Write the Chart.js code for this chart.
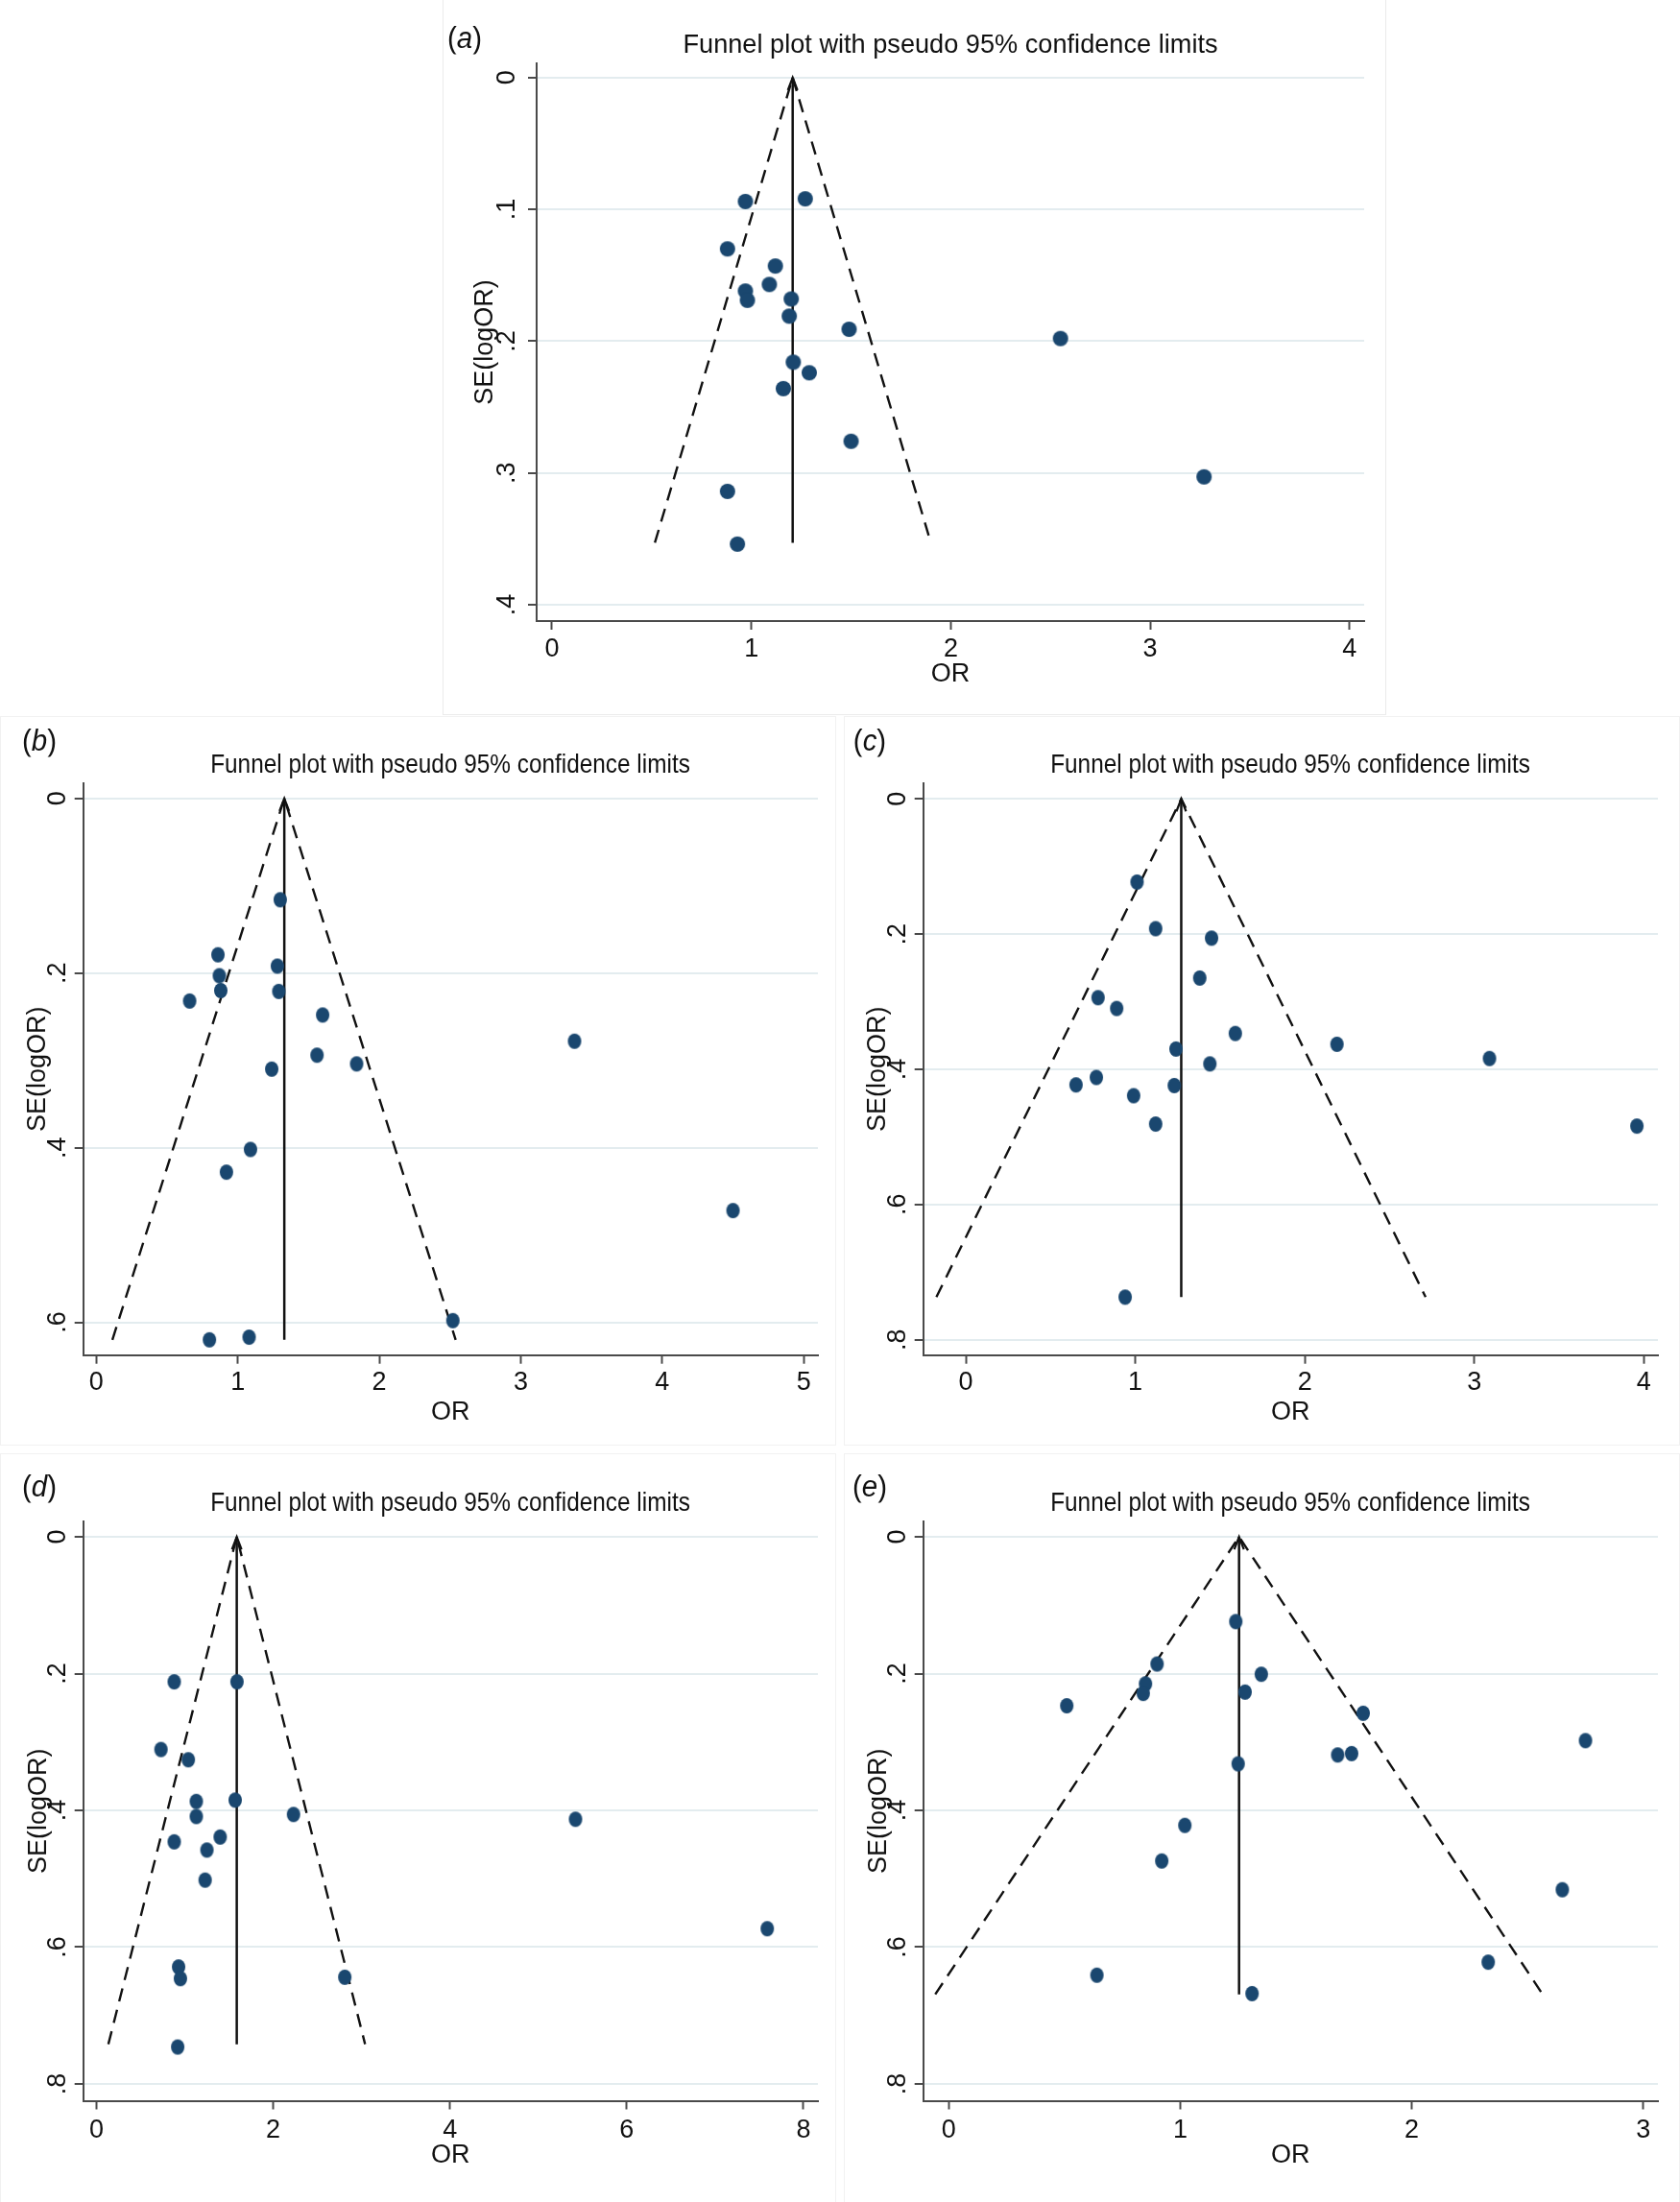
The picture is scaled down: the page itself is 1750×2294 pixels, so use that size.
<!DOCTYPE html>
<html>
<head>
<meta charset="utf-8">
<script src="https://cdn.jsdelivr.net/npm/chart.js@4.4.1/dist/chart.umd.min.js"></script>
<style>
  html, body { margin: 0; padding: 0; background: #fff; }
  body { width: 1750px; height: 2294px; position: relative; overflow: hidden; font-family: 'Liberation Sans', Arial, sans-serif; color: #111; }
  canvas { position: absolute; }
  .frame { position: absolute; border: 1px solid #f1f1f1; box-sizing: border-box; }
  .tag, .ttl { position: absolute; white-space: nowrap; line-height: 1; font-size: 28px; transform: translate(-50%, -50%) scaleX(0.87); }
  .tag { font-size: 31px; transform: translate(-50%, -50%) scaleX(0.95); }
  .tag i { font-style: italic; }
</style>
</head>
<body>
<div class="frame" style="left:461px;top:-1px;width:983px;height:746px;border-color:#ebebeb"></div>
<div class="frame" style="left:0;top:746px;width:871px;height:760px"></div>
<div class="frame" style="left:879px;top:746px;width:871px;height:760px"></div>
<div class="frame" style="left:0;top:1514px;width:871px;height:781px"></div>
<div class="frame" style="left:879px;top:1514px;width:871px;height:781px"></div>

<canvas id="fa" width="983" height="744" style="left:461px;top:0"></canvas>
<canvas id="fb" width="875" height="760" style="left:0;top:745px"></canvas>
<canvas id="fc" width="875" height="760" style="left:875px;top:745px"></canvas>
<canvas id="fd" width="875" height="784" style="left:0;top:1510px"></canvas>
<canvas id="fe" width="875" height="784" style="left:875px;top:1510px"></canvas>

<div class="tag" style="left:484px;top:39px">(<i>a</i>)</div>
<div class="tag" style="left:41px;top:771px">(<i>b</i>)</div>
<div class="tag" style="left:906px;top:771px">(<i>c</i>)</div>
<div class="tag" style="left:41px;top:1548px">(<i>d</i>)</div>
<div class="tag" style="left:906px;top:1548px">(<i>e</i>)</div>

<div class="ttl" style="left:990px;top:46px;transform:translate(-50%,-50%) scaleX(0.97)">Funnel plot with pseudo 95% confidence limits</div>
<div class="ttl" style="left:469px;top:796px">Funnel plot with pseudo 95% confidence limits</div>
<div class="ttl" style="left:1344px;top:796px">Funnel plot with pseudo 95% confidence limits</div>
<div class="ttl" style="left:469px;top:1565px">Funnel plot with pseudo 95% confidence limits</div>
<div class="ttl" style="left:1344px;top:1565px">Funnel plot with pseudo 95% confidence limits</div>

<script>
// study estimates: odds ratio and its standard error of logOR
const orA = [0.97, 1.27, 0.88, 1.12, 1.09, 0.97, 0.98, 1.20, 1.19, 1.49, 2.55, 1.21, 1.29, 1.16, 1.50, 3.27, 0.88, 0.93];
const seA = [0.094, 0.092, 0.130, 0.143, 0.157, 0.162, 0.169, 0.168, 0.181, 0.191, 0.198, 0.216, 0.224, 0.236, 0.276, 0.303, 0.314, 0.354];

const orB = [1.30, 0.86, 1.28, 0.87, 0.88, 1.29, 0.66, 1.60, 3.38, 1.56, 1.84, 1.24, 1.09, 0.92, 4.50, 2.52, 0.80, 1.08];
const seB = [0.116, 0.179, 0.192, 0.203, 0.220, 0.221, 0.232, 0.248, 0.278, 0.294, 0.304, 0.310, 0.402, 0.428, 0.472, 0.598, 0.620, 0.617];

const orC = [1.01, 1.12, 1.45, 1.38, 0.78, 0.89, 1.59, 2.19, 1.24, 3.09, 1.44, 0.77, 0.65, 1.23, 0.99, 1.12, 3.96, 0.94];
const seC = [0.123, 0.192, 0.206, 0.265, 0.294, 0.310, 0.347, 0.363, 0.370, 0.384, 0.392, 0.412, 0.423, 0.424, 0.439, 0.481, 0.484, 0.737];

const orD = [0.88, 1.59, 0.73, 1.04, 1.13, 1.57, 2.23, 1.13, 5.42, 1.40, 0.88, 1.25, 1.23, 7.59, 0.93, 0.95, 2.81, 0.92];
const seD = [0.212, 0.212, 0.311, 0.326, 0.387, 0.385, 0.406, 0.409, 0.413, 0.439, 0.446, 0.458, 0.502, 0.573, 0.629, 0.646, 0.644, 0.746];

const orE = [1.24, 0.90, 1.35, 0.85, 1.28, 0.84, 0.51, 1.79, 2.75, 1.68, 1.74, 1.25, 1.02, 0.92, 2.65, 2.33, 0.64, 1.31];
const seE = [0.124, 0.186, 0.201, 0.215, 0.227, 0.229, 0.247, 0.258, 0.298, 0.319, 0.317, 0.332, 0.422, 0.474, 0.516, 0.622, 0.641, 0.668];

// pooled OR and pseudo 95% limits at the bottom of each funnel (a..e)
const pooledOR = [1.207, 1.329, 1.271, 1.588, 1.254];
const lowerLim = [0.516, 0.114, -0.174, 0.135, -0.058];
const upperLim = [1.900, 2.540, 2.713, 3.040, 2.565];
const seMax    = [0.353, 0.620, 0.737, 0.742, 0.669];

// tick labels
const xTicksA = [0, 1, 2, 3, 4];
const yTicksA = [0, 0.1, 0.2, 0.3, 0.4];
const xTicksB = [0, 1, 2, 3, 4, 5];
const yTicksB = [0, 0.2, 0.4, 0.6];
const xTicksC = [0, 1, 2, 3, 4];
const yTicksC = [0, 0.2, 0.4, 0.6, 0.8];
const xTicksD = [0, 2, 4, 6, 8];
const yTicksD = [0, 0.2, 0.4, 0.6, 0.8];
const xTicksE = [0, 1, 2, 3];
const yTicksE = [0, 0.2, 0.4, 0.6, 0.8];

const NAVY = '#1a476f';
const INK = '#111';
const AXIS = '#4a4a4a';
const GRID = '#e3ecef';
const FONT = "'Liberation Sans Narrow', 'Liberation Sans', Arial, sans-serif";

// stata markers: panel a is round, the others come out slightly tall
function dotImage(w, h) {
  const c = document.createElement('canvas');
  c.width = w + 2; c.height = h + 2;
  const g = c.getContext('2d');
  g.fillStyle = NAVY;
  g.beginPath();
  g.ellipse(c.width / 2, c.height / 2, w / 2, h / 2, 0, 0, Math.PI * 2);
  g.fill();
  return c;
}

const arrowHead = {
  id: 'arrowHead',
  afterDatasetsDraw(chart) {
    const ds = chart.data.datasets.find(d => d.label === 'pooled');
    if (!ds) return;
    const p = ds.data[0];
    const x = chart.scales.x.getPixelForValue(p.x);
    const y = chart.scales.y.getPixelForValue(p.y);
    const ctx = chart.ctx;
    ctx.save();
    ctx.strokeStyle = INK;
    ctx.lineWidth = 2.2;
    ctx.beginPath();
    ctx.moveTo(x - 5, y + 13);
    ctx.lineTo(x, y);
    ctx.lineTo(x + 5, y + 13);
    ctx.stroke();
    ctx.restore();
  }
};

function fmtSE(v) {
  return v === 0 ? '0' : v.toFixed(1).replace(/^0/, '');
}

function funnel(id, i, or, se, xTicks, yTicks, lay) {
  const pts = or.map((v, k) => ({ x: v, y: se[k] }));
  const vert = [{ x: pooledOR[i], y: 0 }, { x: pooledOR[i], y: seMax[i] }];
  const limits = [{ x: lowerLim[i], y: seMax[i] }, { x: pooledOR[i], y: 0 }, { x: upperLim[i], y: seMax[i] }];
  const box = lay.box, area = lay.area;

  return new Chart(document.getElementById(id), {
    type: 'scatter',
    data: {
      datasets: [
        { label: 'studies', data: pts, pointStyle: lay.dot, pointRadius: 8, backgroundColor: NAVY, borderWidth: 0 },
        { label: 'pooled', data: vert, showLine: true, borderColor: INK, borderWidth: 2.5, pointRadius: 0, fill: false },
        { label: 'limits', data: limits, showLine: true, borderColor: INK, borderWidth: 2.4, borderDash: [14, 9], pointRadius: 0, fill: false }
      ]
    },
    options: {
      responsive: false,
      animation: false,
      events: [],
      layout: { padding: { left: 0, bottom: 0, top: area.top - box.top, right: box.left + box.w - area.right } },
      plugins: { legend: { display: false }, tooltip: { enabled: false }, title: { display: false } },
      scales: {
        x: {
          type: 'linear',
          min: lay.xr[0], max: lay.xr[1],
          afterFit: s => { s.height = box.top + box.h - area.bottom; },
          afterBuildTicks: s => { s.ticks = xTicks.map(v => ({ value: v })); },
          grid: { drawOnChartArea: false, tickColor: AXIS, tickWidth: 2, tickLength: 9 },
          border: { color: AXIS, width: 2 },
          ticks: { autoSkip: false, color: INK, font: { family: FONT, size: 27 }, padding: lay.xTickPad, maxRotation: 0, callback: v => String(v) },
          title: { display: true, text: 'OR', color: INK, font: { family: FONT, size: 27 }, padding: { top: 0, bottom: lay.xTitlePad } }
        },
        y: {
          type: 'linear',
          reverse: true,
          min: lay.yr[0], max: lay.yr[1],
          afterFit: s => { s.width = area.left - box.left; },
          afterBuildTicks: s => { s.ticks = yTicks.map(v => ({ value: v })); },
          grid: { color: GRID, lineWidth: 2, tickColor: AXIS, tickWidth: 2, tickLength: 9 },
          border: { color: AXIS, width: 2 },
          ticks: { autoSkip: false, color: INK, font: { family: FONT, size: 27 }, padding: lay.yTickPad, minRotation: 90, maxRotation: 90, crossAlign: 'center', callback: v => fmtSE(v) },
          title: { display: true, text: 'SE(logOR)', color: INK, font: { family: FONT, size: 27 }, padding: { top: lay.yTitlePad, bottom: 0 } }
        }
      }
    },
    plugins: [arrowHead]
  });
}

const roundDot = dotImage(16, 16);
const tallDot = dotImage(14, 16);

funnel('fa', 0, orA, seA, xTicksA, yTicksA, {
  box: { left: 461, top: 0, w: 983, h: 744 },
  area: { left: 559, top: 66, right: 1421, bottom: 647 },
  xr: [-0.077, 4.073], yr: [-0.0108, 0.4124],
  dot: roundDot, xTickPad: 4, yTickPad: 10, xTitlePad: 25, yTitlePad: 28
});
funnel('fb', 1, orB, seB, xTicksB, yTicksB, {
  box: { left: 0, top: 745, w: 875, h: 760 },
  area: { left: 86.7, top: 816, right: 852, bottom: 1411.7 },
  xr: [-0.092, 5.10], yr: [-0.0174, 0.6375],
  dot: tallDot, xTickPad: 4, yTickPad: 6, xTitlePad: 17, yTitlePad: 23
});
funnel('fc', 2, orC, seC, xTicksC, yTicksC, {
  box: { left: 875, top: 745, w: 875, h: 760 },
  area: { left: 961.7, top: 816, right: 1727, bottom: 1411.7 },
  xr: [-0.2516, 4.084], yr: [-0.0231, 0.8227],
  dot: tallDot, xTickPad: 4, yTickPad: 6, xTitlePad: 17, yTitlePad: 23
});
funnel('fd', 3, orD, seD, xTicksD, yTicksD, {
  box: { left: 0, top: 1510, w: 875, h: 784 },
  area: { left: 86.7, top: 1585, right: 852, bottom: 2188.5 },
  xr: [-0.149, 8.163], yr: [-0.0225, 0.8246],
  dot: tallDot, xTickPad: 6, yTickPad: 6, xTitlePad: 32, yTitlePad: 24
});
funnel('fe', 4, orE, seE, xTicksE, yTicksE, {
  box: { left: 875, top: 1510, w: 875, h: 784 },
  area: { left: 961.7, top: 1585, right: 1727, bottom: 2188.5 },
  xr: [-0.110, 3.063], yr: [-0.0225, 0.8246],
  dot: tallDot, xTickPad: 6, yTickPad: 6, xTitlePad: 32, yTitlePad: 24
});
</script>
</body>
</html>
